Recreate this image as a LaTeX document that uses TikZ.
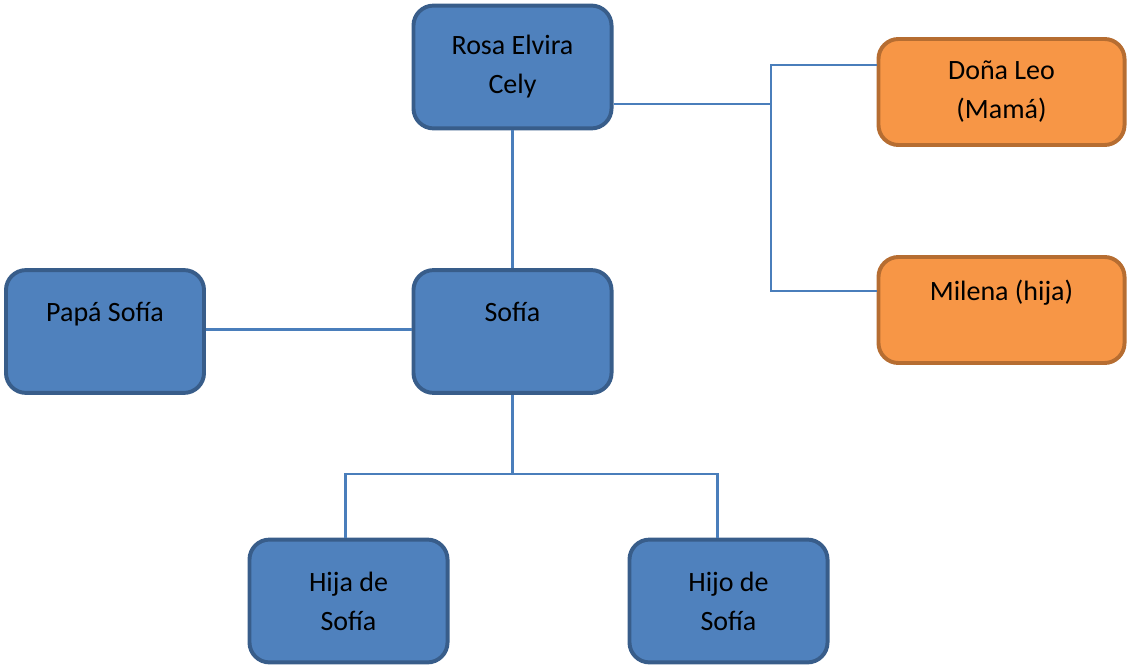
\documentclass[tikz,border=0pt]{standalone}
\usepackage{fontspec}
\setmainfont{Carlito}
\usepackage{tikz}
\usetikzlibrary{calc,positioning}

\definecolor{boxblue}{HTML}{4F81BD}
\definecolor{edgeblue}{HTML}{385D8A}
\definecolor{boxorange}{HTML}{F79646}
\definecolor{edgeorange}{HTML}{B66D31}
\definecolor{linkblue}{HTML}{4A7EBB}

\begin{document}
\begin{tikzpicture}[
        x=0.025cm, y=-0.025cm,
        person/.style={draw=edgeblue, fill=boxblue, line width=2.8pt, rounded corners=0.5cm,
          minimum width=4.95cm, minimum height=3.07cm, align=center,
          font=\fontsize{19.9}{27.7}\selectfont},
        family/.style={person, draw=edgeorange, fill=boxorange,
          minimum width=6.15cm, minimum height=2.65cm},
        link/.style={draw=linkblue, line width=2.1pt},
        every node/.style={color=black,}
      ]
      \useasboundingbox (0,0) rectangle (1128,669);

      \node[person] (rosa)   at (512.5,67)  {Rosa Elvira\\Cely};
      \node[person] (papa)   at (105,331.5) {Papá Sofía\\\mbox{}};
      \node[person] (sofia)  at (512.5,331.5) {Sofía\\\mbox{}};
      \node[person] (hija)   at (348.5,601) {Hija de\\Sofía};
      \node[person] (hijo)   at (728.5,601) {Hijo de\\Sofía};
      \node[family] (leo)    at (1001.5,92) {Doña Leo\\(Mamá)};
      \node[family] (milena) at (1001.5,310) {Milena (hija)\\\mbox{}};

      \coordinate (rj) at (771,104);
      \coordinate (sj) at (512.5,474);

      \draw[link] (rosa.south) -- (sofia.north);
      \draw[link] (rj -| rosa.east) -- (rj);
      \draw[link] ($(leo.west)+(0,-27)$) -| (rj) |- ($(milena.west)+(0,-19)$);
      \draw[link] ($(papa.east)+(0,-2)$) -- ($(sofia.west)+(0,-2)$);
      \draw[link] (sofia.south) -- (sj);
      \draw[link] ($(hija.north)+(-3,0)$) |- (sj) -| ($(hijo.north)+(-11,0)$);
\end{tikzpicture}
\end{document}
